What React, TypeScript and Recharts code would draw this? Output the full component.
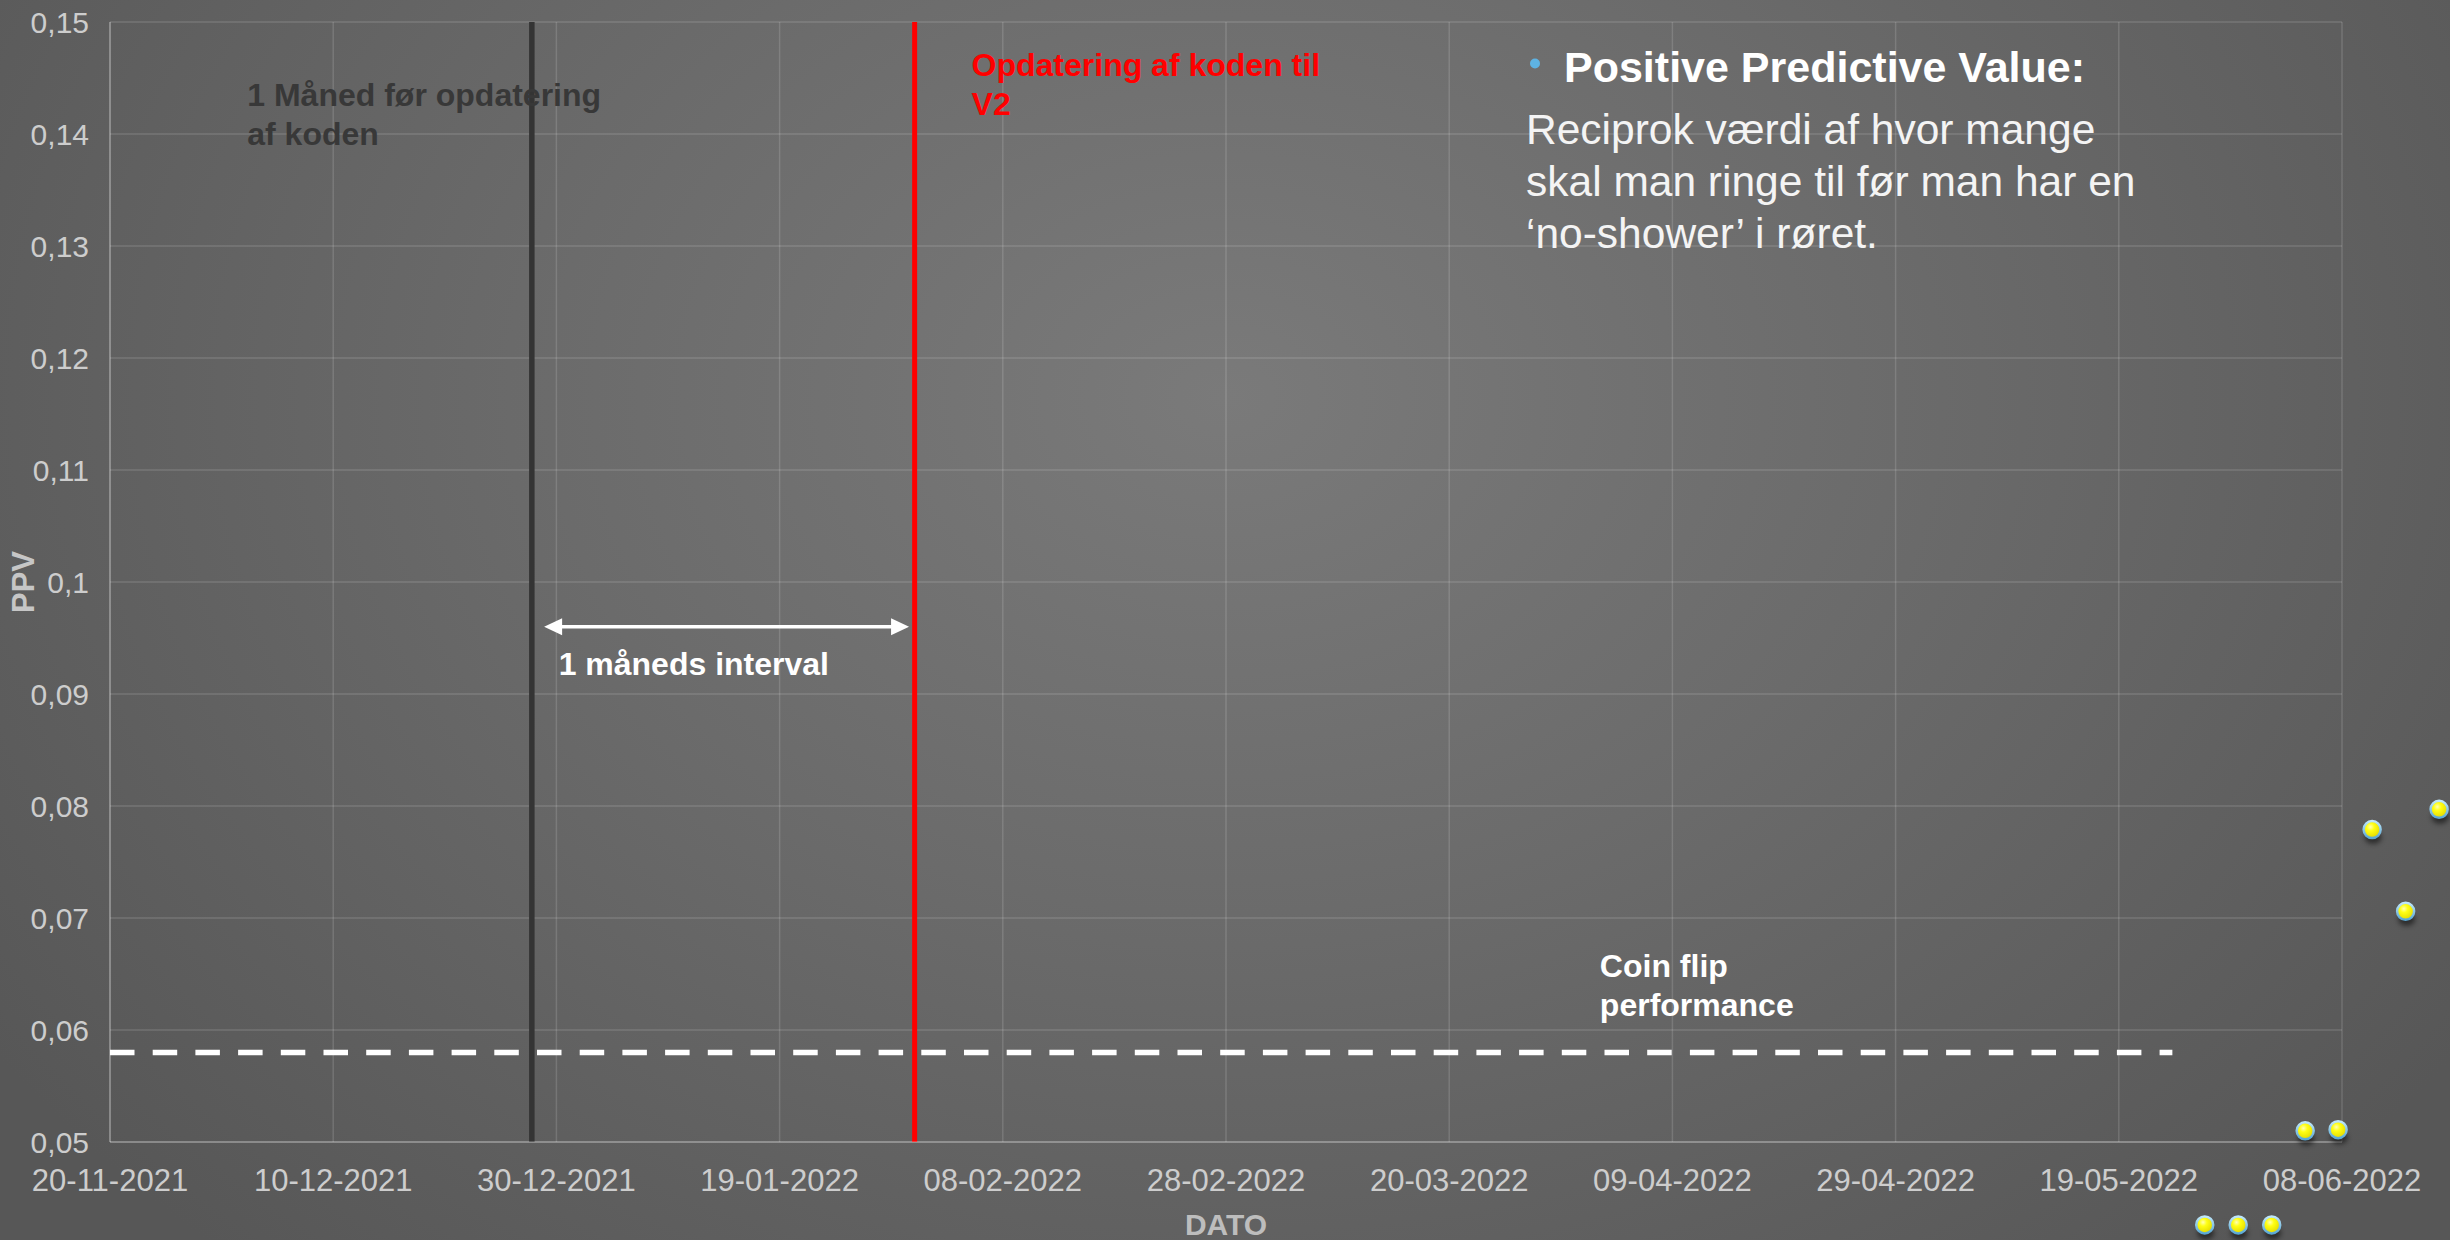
import React from 'react';
import {
  ScatterChart,
  Scatter,
  XAxis,
  YAxis,
  CartesianGrid,
  ReferenceLine,
  ReferenceDot,
} from 'recharts';

// Dates are Excel serial days (44520 = 20-11-2021)
const dateTicks = [44520, 44540, 44560, 44580, 44600, 44620, 44640, 44660, 44680, 44700, 44720];
const ppvTicks = [0.05, 0.06, 0.07, 0.08, 0.09, 0.1, 0.11, 0.12, 0.13, 0.14, 0.15];

const pointDates = [44707.7, 44710.7, 44713.7, 44716.7, 44719.65, 44722.7, 44725.7, 44728.7];
const pointPpv = [0.0426, 0.0426, 0.0426, 0.051, 0.0511, 0.0779, 0.0706, 0.0797];

const coinFlipPpv = 0.058;
const coinFlipEnd = 44704.8;
const monthBeforeDate = 44557.8;
const updateDate = 44592.1;
const intervalFrom = 44558.9;
const intervalTo = 44591.6;
const intervalPpv = 0.096;

const monthBeforeNote = ['1 Måned før opdatering', 'af koden'];
const updateNote = ['Opdatering af koden til', 'V2'];
const coinFlipNote = ['Coin flip', 'performance'];
const intervalNote = ['1 måneds interval'];

const FONT = '"Liberation Sans", Arial, Helvetica, sans-serif';

const ppvPoints = pointDates.map((date, i) => ({ date, ppv: pointPpv[i] }));

function fmtDate(serial: number) {
  const d = new Date(Date.UTC(1899, 11, 30) + Math.round(serial) * 86400000);
  const dd = String(d.getUTCDate()).padStart(2, '0');
  const mm = String(d.getUTCMonth() + 1).padStart(2, '0');
  return `${dd}-${mm}-${d.getUTCFullYear()}`;
}

function fmtPpv(v: number) {
  return String(+v.toFixed(2)).replace('.', ',');
}

function Ball(props: any) {
  const { cx, cy } = props;
  if (cx == null || cy == null) return null;
  return (
    <g>
      <ellipse cx={cx + 1} cy={cy + 8} rx={8.5} ry={6.5} fill="#000" opacity={0.5} filter="url(#ballShadow)" />
      <circle cx={cx} cy={cy} r={8.5} fill="url(#ballFill)" stroke="url(#ballRim)" strokeWidth={2.5} />
    </g>
  );
}

function Arrow(props: any) {
  const { x1, x2, y1 } = props;
  if (x1 == null) return null;
  const head = 18;
  const half = 8.5;
  return (
    <g>
      <line x1={x1 + head - 2} x2={x2 - head + 2} y1={y1} y2={y1} stroke="#fff" strokeWidth={3.5} />
      <polygon points={`${x1},${y1} ${x1 + head},${y1 - half} ${x1 + head},${y1 + half}`} fill="#fff" />
      <polygon points={`${x2},${y1} ${x2 - head},${y1 - half} ${x2 - head},${y1 + half}`} fill="#fff" />
    </g>
  );
}

function note(lines: string[], color: string) {
  return (props: any) => {
    const vb = props.viewBox;
    if (!vb) return null;
    return (
      <text x={vb.x} y={vb.y} fill={color} fontSize={32} fontWeight="bold" fontFamily={FONT}>
        {lines.map((l, i) => (
          <tspan key={i} x={vb.x} dy={i === 0 ? 0 : 39}>
            {l}
          </tspan>
        ))}
      </text>
    );
  };
}

const ppvLabel = (props: any) => {
  const vb = props.viewBox;
  if (!vb) return null;
  const x = vb.x + 13;
  const y = vb.y + vb.height / 2;
  return (
    <text
      x={x}
      y={y}
      transform={`rotate(-90 ${x} ${y})`}
      textAnchor="middle"
      dominantBaseline="central"
      fill="#c6c6c6"
      fontSize={31}
      fontWeight="bold"
      fontFamily={FONT}
    >
      PPV
    </text>
  );
};

const datoLabel = (props: any) => {
  const vb = props.viewBox;
  if (!vb) return null;
  return (
    <text
      x={vb.x + vb.width / 2}
      y={vb.y + 93}
      textAnchor="middle"
      fill="#bdbdbd"
      fontSize={30}
      fontWeight="bold"
      fontFamily={FONT}
    >
      DATO
    </text>
  );
};

export default function App() {
  const grid = 'rgba(255,255,255,0.14)';
  const axis = { stroke: 'rgba(255,255,255,0.22)', strokeWidth: 2 };
  return (
    <div
      style={{
        position: 'absolute',
        left: 0,
        top: 0,
        width: 2450,
        height: 1240,
        overflow: 'hidden',
        background:
          'radial-gradient(ellipse 1500px 1150px at 50% 32%, #7a7a7a 0%, #6b6b6b 45%, #575757 100%)',
      }}
    >
      <style>{'.recharts-scatter{clip-path:none}'}</style>
      <svg width={0} height={0} style={{ position: 'absolute' }}>
        <defs>
          <radialGradient id="ballFill" cx="40%" cy="35%" r="65%">
            <stop offset="0%" stopColor="#ffffb4" />
            <stop offset="35%" stopColor="#ffff14" />
            <stop offset="100%" stopColor="#e2d900" />
          </radialGradient>
          <linearGradient id="ballRim" x1="0" y1="0" x2="0" y2="1">
            <stop offset="0%" stopColor="#bfe7fa" />
            <stop offset="100%" stopColor="#5aa8d4" />
          </linearGradient>
          <filter id="ballShadow" x="-60%" y="-60%" width="220%" height="220%">
            <feGaussianBlur stdDeviation="2.5" />
          </filter>
        </defs>
      </svg>

      <ScatterChart width={2450} height={1240} margin={{ top: 22, right: 108, bottom: 0, left: 10 }}>
        <CartesianGrid stroke={grid} strokeWidth={1.5} />
        <XAxis
          type="number"
          dataKey="date"
          domain={[44520, 44720]}
          ticks={dateTicks}
          interval={0}
          allowDataOverflow
          tickFormatter={fmtDate}
          height={98}
          tickLine={false}
          tickSize={0}
          tickMargin={27}
          axisLine={axis}
          tick={{ fill: '#cdcdcd', fontSize: 31, fontFamily: FONT }}
          label={{ content: datoLabel }}
        />
        <YAxis
          type="number"
          dataKey="ppv"
          domain={[0.05, 0.15]}
          ticks={ppvTicks}
          interval={0}
          allowDataOverflow
          tickFormatter={fmtPpv}
          width={100}
          tickLine={false}
          tickSize={0}
          tickMargin={21}
          axisLine={axis}
          tick={{ fill: '#cdcdcd', fontSize: 30, fontFamily: FONT }}
          label={{ content: ppvLabel }}
        />

        <ReferenceLine
          segment={[
            { x: 44520, y: coinFlipPpv },
            { x: coinFlipEnd, y: coinFlipPpv },
          ]}
          stroke="#fff"
          strokeWidth={5.5}
          strokeDasharray="24.5 18.2"
        />
        <ReferenceLine x={monthBeforeDate} stroke="#343434" strokeWidth={5.5} />
        <ReferenceLine x={updateDate} stroke="#ff0000" strokeWidth={5} />
        <ReferenceLine
          segment={[
            { x: intervalFrom, y: intervalPpv },
            { x: intervalTo, y: intervalPpv },
          ]}
          shape={Arrow}
        />

        <ReferenceDot x={44532.3} y={0.1425} r={0} label={{ content: note(monthBeforeNote, '#383838') }} />
        <ReferenceDot x={44597.2} y={0.1452} r={0} label={{ content: note(updateNote, '#ff0000') }} />
        <ReferenceDot x={44653.5} y={0.06475} r={0} label={{ content: note(coinFlipNote, '#ffffff') }} />
        <ReferenceDot x={44560.2} y={0.0917} r={0} label={{ content: note(intervalNote, '#ffffff') }} />

        <Scatter data={ppvPoints} shape={Ball} isAnimationActive={false} />
      </ScatterChart>

      <svg
        width={750}
        height={280}
        style={{ position: 'absolute', left: 1500, top: 0 }}
        fontFamily={FONT}
      >
        <circle cx={35} cy={63.5} r={5} fill="#5eb3e3" />
        <text x={64} y={82} fill="#ffffff" fontSize={43} fontWeight="bold">
          Positive Predictive Value:
        </text>
        <text fill="#f4f4f4" fontSize={42.5}>
          <tspan x={26} y={144}>Reciprok værdi af hvor mange</tspan>
          <tspan x={26} y={196}>skal man ringe til før man har en</tspan>
          <tspan x={26} y={248}>‘no-shower’ i røret.</tspan>
        </text>
      </svg>
    </div>
  );
}
